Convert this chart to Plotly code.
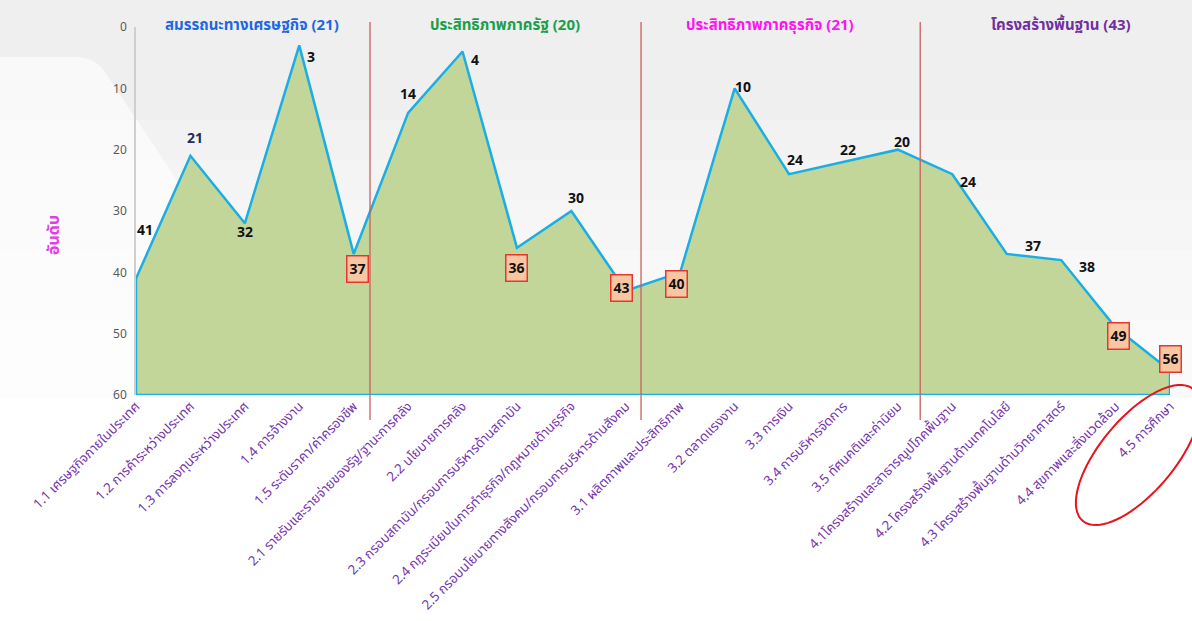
import numpy as np
import plotly.graph_objects as go

# Ranking data (lower is better) for each sub-factor
categories = [
    "1.1 เศรษฐกิจภายในประเทศ", "1.2 การค้าระหว่างประเทศ", "1.3 การลงทุนระหว่างประเทศ",
    "1.4 การจ้างงาน", "1.5 ระดับราคา/ค่าครองชีพ",
    "2.1 รายรับและรายจ่ายของรัฐ/ฐานะการคลัง", "2.2 นโยบายการคลัง",
    "2.3 กรอบสถาบัน/กรอบการบริหารด้านสถาบัน", "2.4 กฎระเบียบในการทำธุรกิจ/กฎหมายด้านธุรกิจ",
    "2.5 กรอบนโยบายทางสังคม/กรอบการบริหารด้านสังคม",
    "3.1 ผลิตภาพและประสิทธิภาพ", "3.2 ตลาดแรงงาน", "3.3 การเงิน",
    "3.4 การบริหารจัดการ", "3.5 ทัศนคติและค่านิยม",
    "4.1โครงสร้างและสาธารณูปโภคพื้นฐาน", "4.2 โครงสร้างพื้นฐานด้านเทคโนโลยี",
    "4.3 โครงสร้างพื้นฐานด้านวิทยาศาสตร์", "4.4 สุขภาพและสิ่งแวดล้อม", "4.5 การศึกษา",
]
ranks = [41, 21, 32, 3, 37, 14, 4, 36, 30, 43, 40, 10, 24, 22, 20, 24, 37, 38, 49, 56]

group_titles = ["สมรรถนะทางเศรษฐกิจ (21)", "ประสิทธิภาพภาครัฐ (20)",
                "ประสิทธิภาพภาคธุรกิจ (21)", "โครงสร้างพื้นฐาน (43)"]
group_colors = ["#2166e0", "#1a9e4a", "#ff14f0", "#7030a0"]
y_ticks = [0, 10, 20, 30, 40, 50, 60]

# Indices of sub-factors whose labels are drawn in a highlighted box
highlight_idx = [4, 7, 9, 10, 18, 19]

# Label offsets in pixels (dx, dy up)
label_offsets = [
    (9, 48), (5, 17), (0, -9), (12, -12), (4, -15),
    (0, 18), (12, -9), (0, -20), (5, 13), (-4, 3),
    (-4, -12), (8, 1), (6, 14), (5, 11), (4, 7),
    (16, -8), (26, 7), (26, -7), (3, -8), (0, 11),
]

FONT = "Noto Sans Thai, Tahoma, Noto Sans, DejaVu Sans, sans-serif"
W, H = 1192, 621
L, R, T, B = 136, 22, 27, 226
PW, PH = W - L - R, H - T - B


def px_x(p):
    return (p - L) / PW


def px_y(p):
    return (H - B - p) / PH


x = list(range(len(ranks)))
n = len(ranks)

fig = go.Figure()

# Closed area polygon down to the bottom of the reversed axis
poly_x = x + [n - 1, 0, 0]
poly_y = ranks + [60, 60, ranks[0]]
fig.add_trace(go.Scatter(
    x=poly_x, y=poly_y, mode="lines", fill="toself",
    fillcolor="#c2d69a", line=dict(color="#1aaee5", width=2.5),
    hoverinfo="skip", showlegend=False,
))

annotations = []
for i, v in enumerate(ranks):
    dx, dy = label_offsets[i]
    ann = dict(x=i, y=v, xref="x", yref="y", text=f"<b>{v}</b>", showarrow=False,
               xshift=dx, yshift=dy,
               font=dict(family=FONT, size=14, color="#1f2d5a" if i == 1 else "#111111"))
    if i in highlight_idx:
        ann.update(bgcolor="#f9c6a2", bordercolor="#e8362f", borderwidth=1.5, borderpad=2)
    annotations.append(ann)

# Group headings along the top
group_centers = [2.13, 6.78, 11.65, 16.99]
for t, c, gx in zip(group_titles, group_colors, group_centers):
    annotations.append(dict(x=gx, y=0, xref="x", yref="y", yshift=2, text=f"<b>{t}</b>",
                            showarrow=False, font=dict(family=FONT, size=15, color=c)))

# Axis title
annotations.append(dict(x=px_x(40), y=px_y(235), xref="paper", yref="paper",
                        text="<b>อันดับ</b>", showarrow=False, textangle=-90,
                        font=dict(family=FONT, size=16, color="#e23ce6")))

shapes = []
# Soft slide backdrop: grey at the top fading to white
for top, op in [(120, 0.2), (160, 0.2), (200, 0.2), (250, 0.25), (320, 0.3)]:
    shapes.append(dict(type="rect", xref="paper", yref="paper", x0=px_x(0), x1=px_x(W),
                       y0=px_y(top), y1=px_y(H), fillcolor="#ffffff", opacity=op,
                       line=dict(width=0), layer="below"))
shapes.append(dict(type="path", xref="paper", yref="paper", layer="below",
                   path=(f"M {px_x(0)},{px_y(57)} L {px_x(75)},{px_y(57)} "
                         f"Q {px_x(95)},{px_y(57)} {px_x(105)},{px_y(72)} "
                         f"L {px_x(200)},{px_y(215)} L {px_x(200)},{px_y(H)} "
                         f"L {px_x(0)},{px_y(H)} Z"),
                   fillcolor="#ffffff", opacity=0.6, line=dict(width=0)))
shapes.append(dict(type="rect", xref="paper", yref="paper", x0=px_x(0), x1=px_x(W),
                   y0=px_y(398), y1=px_y(H), fillcolor="#ffffff",
                   line=dict(width=0), layer="below"))

# Group separators
for sx in [4.3, 9.28, 14.41]:
    shapes.append(dict(type="line", xref="x", yref="paper", x0=sx, x1=sx,
                       y0=px_y(22), y1=px_y(420),
                       line=dict(color="#c8605c", width=1.3)))

# Ellipse highlighting the last category
cx, cy, a, b, ang = 1138, 455, 86, 37, np.deg2rad(50)
t = np.linspace(0, 2 * np.pi, 80)
ex = cx + a * np.cos(t) * np.cos(ang) - b * np.sin(t) * np.sin(ang)
ey = cy - (a * np.cos(t) * np.sin(ang) + b * np.sin(t) * np.cos(ang))
path = "M " + " L ".join(f"{px_x(u):.5f},{px_y(w):.5f}" for u, w in zip(ex, ey)) + " Z"
shapes.append(dict(type="path", xref="paper", yref="paper", path=path,
                   line=dict(color="#e8141c", width=2)))

fig.update_layout(
    width=W, height=H,
    margin=dict(l=L, r=R, t=T, b=B),
    paper_bgcolor="#efefef", plot_bgcolor="rgba(0,0,0,0)",
    showlegend=False,
    annotations=annotations, shapes=shapes,
    xaxis=dict(range=[0, n - 1], tickmode="array", tickvals=x, ticktext=categories,
               tickangle=-45, tickfont=dict(family=FONT, size=13.3, color="#7534ad"),
               showgrid=False, zeroline=False, showline=False, ticks="",
               automargin=False),
    yaxis=dict(range=[60, 0], tickmode="array", tickvals=y_ticks,
               tickfont=dict(family=FONT, size=12, color="#5a5a5a"),
               showgrid=False, zeroline=False, showline=True, linecolor="#cfcfcf",
               linewidth=1.5, ticks="outside", ticklen=5, tickcolor="rgba(0,0,0,0)",
               automargin=False),
)

fig.write_html("out.html")
